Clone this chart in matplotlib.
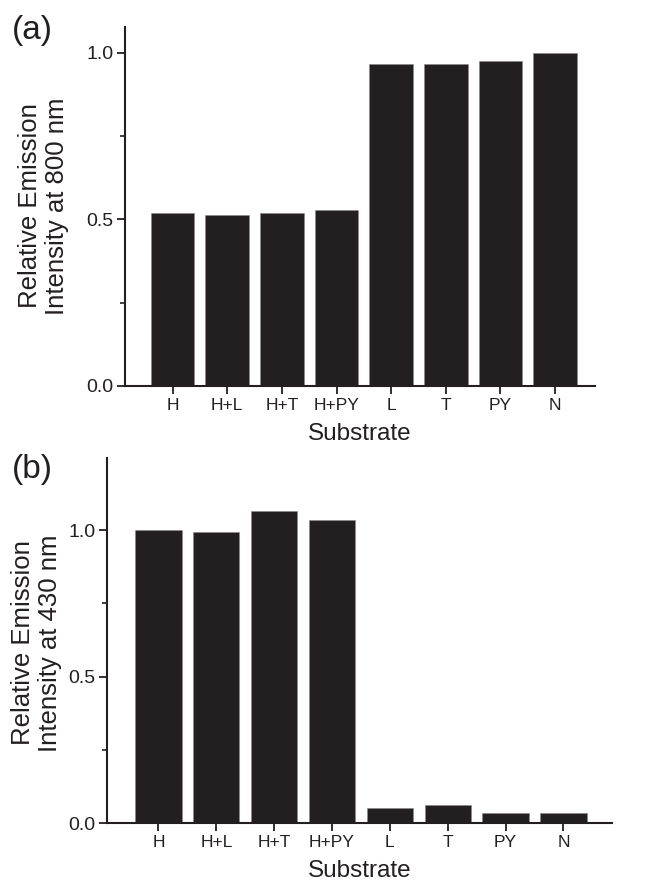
#!/usr/bin/python3

#Relative emission intensity of the probe with the different substrates

import numpy as np
import matplotlib.pyplot as plt

#data
substrates = ["H", "H+L", "H+T", "H+PY", "L", "T", "PY", "N"]
em_800 = [0.520, 0.514, 0.519, 0.528, 0.966, 0.966, 0.975, 1.0]
em_430 = [1.0, 0.994, 1.065, 1.034, 0.051, 0.060, 0.035, 0.035]

#plot config
plt.rcParams['font.family'] = ['Liberation Sans', 'DejaVu Sans']
DARK = "#231f20"
W, H = 650, 890

fig = plt.figure(figsize=(W / 100, H / 100), dpi=100)


def px_axes(left, right, top, bottom):
    return fig.add_axes([left / W, 1 - bottom / H, (right - left) / W, (bottom - top) / H])


def draw_panel(ax, vals, xlim, ymax):
    x = np.arange(len(substrates))
    ax.bar(x, vals, width=0.8, color=DARK, edgecolor="#8a8a8a", linewidth=0.4)
    ax.set_xlim(*xlim)
    ax.set_ylim(0, ymax)
    ax.set_xticks(x)
    ax.set_xticklabels(substrates, fontsize=12.5)
    ax.set_yticks([0.0, 0.5, 1.0])
    ax.set_yticklabels(["0.0", "0.5", "1.0"], fontsize=14)
    ax.set_yticks([0.25, 0.75], minor=True)
    for s in ["top", "right"]:
        ax.spines[s].set_visible(False)
    for s in ["left", "bottom"]:
        ax.spines[s].set_linewidth(1.5)
        ax.spines[s].set_color(DARK)
    ax.tick_params(axis="both", which="major", direction="out", length=5.5,
                   width=1.3, color=DARK, labelcolor=DARK, pad=3)
    ax.tick_params(axis="y", which="minor", direction="out", length=3.5,
                   width=1.2, color=DARK)
    ax.set_xlabel("Substrate", fontsize=17.5, color=DARK, labelpad=7)


#panel (a)
ax1 = px_axes(125, 595, 27, 386)
draw_panel(ax1, em_800, (-0.87, 7.73), 1.078)
fig.text(43.5 / W, 1 - 206 / H, "Relative Emission\nIntensity at 800 nm",
         rotation=90, ha="center", va="center", fontsize=18.5, color=DARK,
         multialignment="center", linespacing=1.15)
fig.text(32 / W, 1 - 31 / H, "(a)", ha="center", va="center", fontsize=24, color=DARK)

#panel (b)
ax2 = px_axes(107, 612, 458, 823)
draw_panel(ax2, em_430, (-0.89, 7.84), 1.247)
fig.text(36.5 / W, 1 - 643 / H, "Relative Emission\nIntensity at 430 nm",
         rotation=90, ha="center", va="center", fontsize=18.5, color=DARK,
         multialignment="center", linespacing=1.15)
fig.text(32 / W, 1 - 470 / H, "(b)", ha="center", va="center", fontsize=24, color=DARK)

plt.savefig("out.png", dpi=100)
